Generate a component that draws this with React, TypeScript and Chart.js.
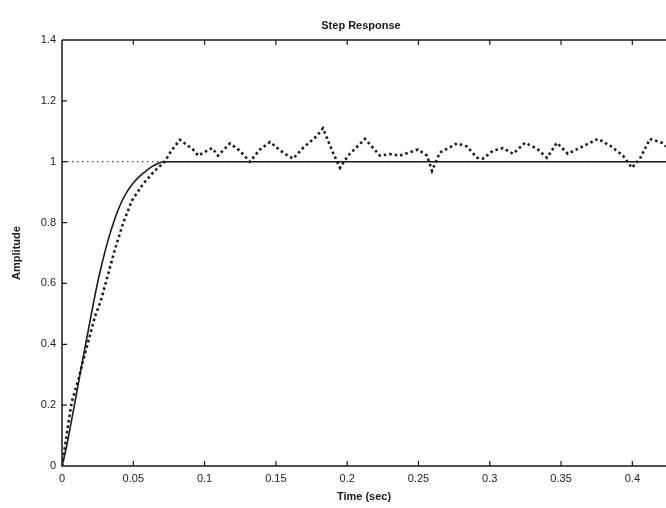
import { useEffect, useRef } from "react";
import { Chart, registerables } from "chart.js";

Chart.register(...registerables);

const chartTitle = "Step Response";
const xTitle = "Time (sec)";
const yTitle = "Amplitude";

const xMin = 0;
const xMax = 0.4236;
const yMin = 0;
const yMax = 1.4;
const xTickValues = [0, 0.05, 0.1, 0.15, 0.2, 0.25, 0.3, 0.35, 0.4];
const yTickValues = [0, 0.2, 0.4, 0.6, 0.8, 1, 1.2, 1.4];

const refTime = [0, 0.4236];
const refAmp = [1, 1];

const smoothTime = [0, 0.003, 0.0065, 0.0095, 0.0126, 0.016, 0.02, 0.0243, 0.027, 0.03, 0.033, 0.036, 0.039, 0.042, 0.046, 0.05, 0.054, 0.058, 0.0615, 0.065, 0.068, 0.072, 0.4236];
const smoothAmp = [0, 0.06, 0.145, 0.22, 0.3, 0.385, 0.485, 0.588, 0.645, 0.702, 0.753, 0.798, 0.837, 0.87, 0.904, 0.93, 0.95, 0.966, 0.979, 0.989, 0.996, 1.0, 1.0];

const noisyTime = [
  0, 0.002, 0.0044, 0.0068, 0.0115, 0.015, 0.0185, 0.023, 0.027, 0.03, 0.0335, 0.037, 0.043, 0.049, 0.057, 0.065, 0.072,
  0.0765, 0.0827, 0.0919, 0.0954, 0.1052, 0.1094, 0.1178, 0.1248, 0.1318, 0.1388, 0.1459, 0.155, 0.162, 0.169, 0.1788, 0.183, 0.19,
  0.195, 0.2006, 0.2125, 0.223, 0.23, 0.237, 0.2497, 0.256, 0.2595, 0.265, 0.277, 0.284, 0.291, 0.2952, 0.3022, 0.3093, 0.3163, 0.3247,
  0.3331, 0.3401, 0.3471, 0.3548, 0.3633, 0.3759, 0.3843, 0.3934, 0.3997, 0.4053, 0.4123, 0.4208, 0.4236,
];
const noisyAmp = [
  0, 0.06, 0.14, 0.21, 0.285, 0.35, 0.41, 0.49, 0.54, 0.59, 0.65, 0.71, 0.8, 0.872, 0.928, 0.97, 1.0,
  1.035, 1.072, 1.04, 1.02, 1.045, 1.02, 1.06, 1.036, 1.0, 1.04, 1.065, 1.03, 1.01, 1.045, 1.085, 1.11, 1.03,
  0.98, 1.02, 1.075, 1.02, 1.025, 1.02, 1.04, 1.02, 0.97, 1.03, 1.06, 1.05, 1.013, 1.01, 1.036, 1.045, 1.026, 1.062,
  1.043, 1.013, 1.062, 1.026, 1.046, 1.075, 1.053, 1.02, 0.98, 1.01, 1.075, 1.062, 1.05,
];

const toPoints = (xs: number[], ys: number[]) => xs.map((x, i) => ({ x, y: ys[i] }));
const fmt = (v: number) => String(Math.round(v * 100) / 100);

const INK = "#1a1a1a";
const FONT = "'Liberation Sans', Arial, sans-serif";

const framePlugin = {
  id: "matlabFrame",
  afterDatasetsDraw(chart: any) {
    const { ctx, chartArea } = chart;
    const xs = chart.scales.x;
    const ys = chart.scales.y;
    const { left, right, top, bottom } = chartArea;
    ctx.save();
    ctx.strokeStyle = INK;
    ctx.lineWidth = 1.5;
    ctx.beginPath();
    ctx.moveTo(left, top);
    ctx.lineTo(right + 2, top);
    ctx.moveTo(left, top);
    ctx.lineTo(left, bottom);
    ctx.lineTo(right + 2, bottom);
    ctx.stroke();
    ctx.lineWidth = 1.2;
    ctx.beginPath();
    xTickValues.forEach((v) => {
      if (v === xMin) return;
      const px = xs.getPixelForValue(v);
      ctx.moveTo(px, bottom);
      ctx.lineTo(px, bottom - 5);
      ctx.moveTo(px, top);
      ctx.lineTo(px, top + 5);
    });
    yTickValues.forEach((v) => {
      if (v === yMin || v === yMax) return;
      const py = ys.getPixelForValue(v);
      ctx.moveTo(left, py);
      ctx.lineTo(left + 5, py);
    });
    ctx.stroke();
    ctx.fillStyle = INK;
    ctx.font = `bold 11px ${FONT}`;
    ctx.textAlign = "center";
    ctx.textBaseline = "middle";
    ctx.fillText(chartTitle, 361, 26);
    ctx.restore();
  },
};

export default function App() {
  const canvasRef = useRef<HTMLCanvasElement | null>(null);

  useEffect(() => {
    const canvas = canvasRef.current;
    if (!canvas) return;
    const chart = new Chart(canvas, {
      type: "line",
      data: {
        datasets: [
          {
            label: "Reference",
            data: toPoints(refTime, refAmp),
            borderColor: INK,
            borderWidth: 1,
            borderDash: [1.5, 3.5],
            pointRadius: 0,
            fill: false,
          },
          {
            label: "Measured",
            data: toPoints(noisyTime, noisyAmp),
            borderColor: INK,
            borderWidth: 2.6,
            borderDash: [2.5, 3],
            pointRadius: 0,
            tension: 0,
            fill: false,
          },
          {
            label: "Model",
            data: toPoints(smoothTime, smoothAmp),
            borderColor: INK,
            borderWidth: 1.6,
            pointRadius: 0,
            cubicInterpolationMode: "monotone",
            fill: false,
          },
        ],
      },
      options: {
        responsive: false,
        animation: false,
        layout: { padding: { top: 40, right: 0, left: 0, bottom: 0 } },
        plugins: {
          legend: { display: false },
          tooltip: { enabled: false },
          title: { display: false },
        },
        scales: {
          x: {
            type: "linear",
            min: xMin,
            max: xMax,
            grid: { display: false, drawTicks: false },
            border: { display: false },
            afterFit: (s: any) => {
              s.height = 42;
            },
            afterBuildTicks: (s: any) => {
              s.ticks = xTickValues.map((value) => ({ value }));
            },
            ticks: {
              autoSkip: false,
              includeBounds: false,
              maxRotation: 0,
              padding: 6,
              color: "#222",
              font: { family: FONT, size: 11 },
              callback: (v: any) => fmt(Number(v)),
            },
            title: {
              display: true,
              text: xTitle,
              color: INK,
              font: { family: FONT, size: 11, weight: "bold" },
              padding: { top: 0, bottom: 4 },
            },
          },
          y: {
            type: "linear",
            min: yMin,
            max: yMax,
            grid: { display: false, drawTicks: false },
            border: { display: false },
            afterFit: (s: any) => {
              s.width = 62;
            },
            afterBuildTicks: (s: any) => {
              s.ticks = yTickValues.map((value) => ({ value }));
            },
            ticks: {
              autoSkip: false,
              padding: 6,
              color: "#222",
              font: { family: FONT, size: 11 },
              callback: (v: any) => fmt(Number(v)),
            },
            title: {
              display: true,
              text: yTitle,
              color: INK,
              font: { family: FONT, size: 11, weight: "bold" },
              padding: { top: 10, bottom: 0 },
            },
          },
        },
      },
      plugins: [framePlugin],
    });
    return () => chart.destroy();
  }, []);

  return (
    <div style={{ position: "absolute", left: 0, top: 0, width: 666, height: 508, background: "#fff" }}>
      <canvas ref={canvasRef} width={666} height={508} style={{ display: "block" }} />
    </div>
  );
}
